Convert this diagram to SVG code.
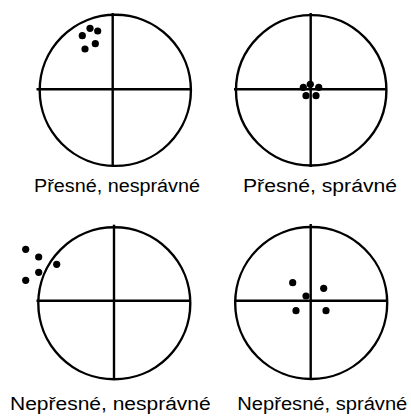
<svg xmlns="http://www.w3.org/2000/svg" width="411" height="417" viewBox="0 0 411 417">
<style>
.ring{fill:none;stroke:#000;stroke-width:2.4}
.ax{stroke:#000;stroke-width:2.4}
.dot{fill:#000}
.lbl{font-family:"Liberation Sans",Arial,sans-serif;font-size:18px;fill:#000}
</style>
<rect width="411" height="417" fill="#fff"/>
<g id="target-tl">
<circle class="ring" cx="115.3" cy="90.3" r="75.6"/>
<line class="ax" x1="112.7" y1="13" x2="112.7" y2="167"/>
<line class="ax" x1="36.5" y1="89.3" x2="192" y2="89.3"/>
<circle class="dot" cx="82.3" cy="35.7" r="3.6"/>
<circle class="dot" cx="90" cy="28.3" r="3.6"/>
<circle class="dot" cx="97.7" cy="31" r="3.6"/>
<circle class="dot" cx="95.3" cy="43.7" r="3.6"/>
<circle class="dot" cx="85" cy="49" r="3.6"/>
<text class="lbl" x="34" y="192" textLength="166" lengthAdjust="spacingAndGlyphs">Přesné, nesprávné</text>
</g>
<g id="target-tr">
<circle class="ring" cx="311.2" cy="90.3" r="75.2"/>
<line class="ax" x1="310.7" y1="13" x2="310.7" y2="167"/>
<line class="ax" x1="234" y1="89.3" x2="386.7" y2="89.3"/>
<circle class="dot" cx="303.3" cy="87.3" r="3.6"/>
<circle class="dot" cx="310.3" cy="84.3" r="3.6"/>
<circle class="dot" cx="318.7" cy="87.3" r="3.6"/>
<circle class="dot" cx="306" cy="95.7" r="3.6"/>
<circle class="dot" cx="316" cy="95.7" r="3.6"/>
<text class="lbl" x="243" y="192" textLength="154" lengthAdjust="spacingAndGlyphs">Přesné, správné</text>
</g>
<g id="target-bl">
<circle class="ring" cx="114.3" cy="303.3" r="76"/>
<line class="ax" x1="114" y1="224.7" x2="114" y2="378"/>
<line class="ax" x1="36.5" y1="300.7" x2="191" y2="300.7"/>
<circle class="dot" cx="25.7" cy="249.3" r="3.6"/>
<circle class="dot" cx="38.7" cy="257" r="3.6"/>
<circle class="dot" cx="56.7" cy="264.3" r="3.6"/>
<circle class="dot" cx="38.7" cy="272.3" r="3.6"/>
<circle class="dot" cx="25.7" cy="280.3" r="3.6"/>
<text class="lbl" x="10" y="410.3" textLength="200.7" lengthAdjust="spacingAndGlyphs">Nepřesné, nesprávné</text>
</g>
<g id="target-br">
<circle class="ring" cx="311.2" cy="303" r="76"/>
<line class="ax" x1="310.7" y1="224" x2="310.7" y2="378"/>
<line class="ax" x1="234" y1="300.7" x2="386.7" y2="300.7"/>
<circle class="dot" cx="292.7" cy="282.7" r="3.6"/>
<circle class="dot" cx="323.7" cy="288.3" r="3.6"/>
<circle class="dot" cx="306" cy="296" r="3.6"/>
<circle class="dot" cx="296" cy="310.7" r="3.6"/>
<circle class="dot" cx="326" cy="310.7" r="3.6"/>
<text class="lbl" x="237.3" y="410.3" textLength="170" lengthAdjust="spacingAndGlyphs">Nepřesné, správné</text>
</g>
<g id="connectors"/>
</svg>
